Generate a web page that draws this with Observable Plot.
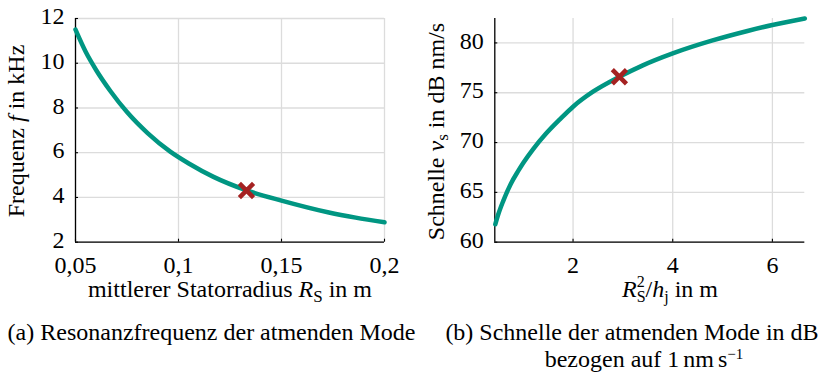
<!DOCTYPE html>
<html><head><meta charset="utf-8">
<script src="https://cdn.jsdelivr.net/npm/d3@7"></script>
<script src="https://cdn.jsdelivr.net/npm/@observablehq/plot@0.6"></script>
<style>
body{margin:0;background:#fff}
#wrap{position:relative;width:819px;height:377px;overflow:hidden;font-family:"Liberation Serif","Times New Roman",serif}
#wrap svg{position:absolute;top:0}
</style></head><body><div id="wrap"></div>
<script>
// Panel (a): resonance frequency vs mean stator radius
const radiusM = [0.05, 0.055, 0.06, 0.067, 0.075, 0.085, 0.096, 0.105, 0.117, 0.133, 0.15, 0.173, 0.186, 0.2];
const freqKHz = [11.5, 10.5, 9.7, 8.75, 7.82, 6.88, 6.05, 5.52, 4.92, 4.32, 3.86, 3.33, 3.1, 2.89];
const markA = [{x: 0.133, y: 4.31}];
const ticksAx = [0.05, 0.1, 0.15, 0.2];
const ticksAy = [2, 4, 6, 8, 10, 12];

// Panel (b): velocity level vs R_S^2/h_j
const ratioM = [0.44, 0.5, 0.6, 0.75, 0.9, 1.0, 1.2, 1.45, 1.75, 2.0, 2.4, 2.93, 3.4, 4.0, 4.8, 5.5, 6.0, 6.65];
const velDB = [61.8, 62.8, 64.15, 65.85, 67.15, 67.95, 69.35, 70.85, 72.4, 73.6, 75.1, 76.6, 77.75, 78.95, 80.25, 81.2, 81.8, 82.45];
const markB = [{x: 2.93, y: 76.6}];
const ticksBx = [2, 4, 6];
const ticksBy = [60, 65, 70, 75, 80];

const GREEN = "#009682", RED = "#a52222", GRID = "#dcdcdc";

function panel({xs, ys, mark, xDomain, yDomain, xTicks, yTicks, xFmt, width, marginLeft, marginRight, left}) {
  const H = 300, mt = 18, mb = 300 - 241.7;
  const pw = width - marginLeft - marginRight, ph = H - mt - mb;
  const data = xs.map((d, i) => ({x: d, y: ys[i]}));
  const svg = Plot.plot({
    width, height: H, marginLeft, marginRight, marginTop: mt, marginBottom: mb,
    style: {fontFamily: '"Liberation Serif", serif', fontSize: "24px", color: "black", background: "transparent", overflow: "visible"},
    x: {domain: xDomain, label: null},
    y: {domain: yDomain, label: null},
    marks: [
      Plot.gridX(xTicks, {stroke: GRID, strokeOpacity: 1, strokeWidth: 1.3}),
      Plot.gridY(yTicks, {stroke: GRID, strokeOpacity: 1, strokeWidth: 1.3}),
      Plot.ruleX([xDomain[0]], {stroke: "black", strokeWidth: 1.3}),
      Plot.ruleY([yDomain[0]], {stroke: "black", strokeWidth: 1.3}),
      Plot.tickX(xTicks, {x: d => d, insetTop: ph - 3, stroke: "black", strokeWidth: 1.1}),
      Plot.tickY(yTicks, {y: d => d, insetRight: pw - 3, stroke: "black", strokeWidth: 1.1}),
      Plot.axisX(xTicks, {tickSize: 0, tickPadding: 14, tickFormat: xFmt, fontSize: 24, label: null}),
      Plot.axisY(yTicks, {tickSize: 0, tickPadding: 11, fontSize: 24, dy: -2, label: null}),
      Plot.line(data, {x: "x", y: "y", curve: "monotone-x", stroke: GREEN, strokeWidth: 4.5}),
      Plot.dot(mark, {x: "x", y: "y", symbol: "times", r: 6.5, stroke: RED, strokeWidth: 4.5})
    ]
  });
  svg.style.left = left + "px";
  return svg;
}

const wrap = document.getElementById("wrap");
wrap.appendChild(panel({
  xs: radiusM, ys: freqKHz, mark: markA, xDomain: [0.05, 0.2], yDomain: [2, 12],
  xTicks: ticksAx, yTicks: ticksAy, xFmt: d => String(d).replace(".", ","),
  width: 410, marginLeft: 75, marginRight: 26, left: 0
}));
wrap.appendChild(panel({
  xs: ratioM, ys: velDB, mark: markB, xDomain: [0.43, 6.65], yDomain: [60, 82.45],
  xTicks: ticksBx, yTicks: ticksBy, xFmt: d => String(d),
  width: 409, marginLeft: 84.3, marginRight: 14.7, left: 410
}));

const NS = "http://www.w3.org/2000/svg";
const ov = document.createElementNS(NS, "svg");
ov.setAttribute("width", 819); ov.setAttribute("height", 377);
ov.style.left = "0px";
ov.style.pointerEvents = "none";
ov.innerHTML = `
<g font-family='"Liberation Serif", serif' font-size="24" fill="black">
  <text x="230" y="297" text-anchor="middle">mittlerer Statorradius <tspan font-style="italic">R</tspan><tspan font-size="17" dy="5">S</tspan><tspan dy="-5"> in m</tspan></text>
  <text x="670" y="297" text-anchor="middle"><tspan font-style="italic">R</tspan><tspan font-size="16" dy="-10">2</tspan><tspan font-size="16" dx="-8" dy="15">S</tspan><tspan dy="-5">/</tspan><tspan font-style="italic">h</tspan><tspan font-size="16" dy="5">j</tspan><tspan dy="-5"> in m</tspan></text>
  <text transform="translate(24,131) rotate(-90)" text-anchor="middle">Frequenz <tspan font-style="italic">f</tspan> in kHz</text>
  <text transform="translate(443.5,131.5) rotate(-90)" text-anchor="middle">Schnelle <tspan font-style="italic">v</tspan><tspan font-size="17" dy="4">s</tspan><tspan dy="-4"> in dB nm/s</tspan></text>
  <text x="211.5" y="340" text-anchor="middle">(a) Resonanzfrequenz der atmenden Mode</text>
  <text x="632" y="340" text-anchor="middle">(b) Schnelle der atmenden Mode in dB</text>
  <text x="644" y="367" text-anchor="middle">bezogen auf 1<tspan dx="4">nm</tspan><tspan dx="4">s</tspan><tspan font-size="15" dy="-8">−1</tspan></text>
</g>`;
wrap.appendChild(ov);
</script></body></html>
